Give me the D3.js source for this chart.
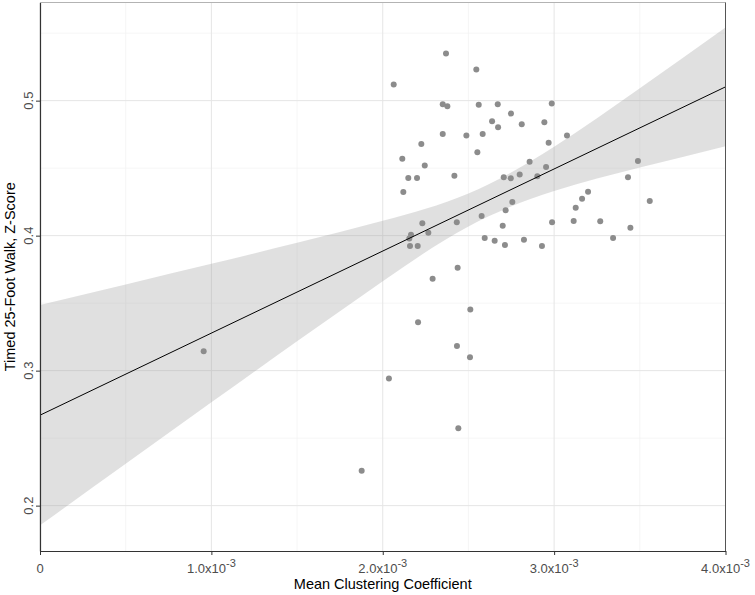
<!DOCTYPE html>
<html>
<head>
<meta charset="utf-8">
<script src="https://cdn.jsdelivr.net/npm/d3@7.9.0/dist/d3.min.js"></script>
<style>
  html, body { margin: 0; padding: 0; background: #fff; }
  svg { display: block; font-family: "Liberation Sans", Arial, sans-serif; }
</style>
</head>
<body>
<svg id="chart" width="755" height="595"></svg>
<script>
// mean clustering coefficient (x, in units of 1e-3) vs timed 25-foot walk z-score (y)
const clustering = [
  2.064, 2.369, 2.546, 2.350, 2.377, 2.560, 2.671, 2.986, 2.748, 2.638,
  2.673, 2.811, 2.943, 2.350, 2.488, 2.583, 2.968, 2.225, 2.552, 2.114,
  2.245, 2.857, 2.953, 2.149, 2.200, 2.418, 2.706, 2.747, 2.799, 2.902,
  2.120, 2.756, 2.717, 2.577, 2.231, 2.432, 2.700, 2.988, 2.165, 2.155,
  2.266, 2.159, 2.204, 2.595, 2.653, 2.713, 2.824, 2.929, 2.437, 2.291,
  2.511, 2.206, 2.433, 2.509, 2.036, 2.441, 1.877, 0.955, 3.075, 3.489,
  3.431, 3.198, 3.163, 3.126, 3.114, 3.269, 3.445, 3.344, 3.558
];

const walkZ = [
  0.512, 0.535, 0.523, 0.4973, 0.4959, 0.497, 0.4973, 0.4978, 0.4904, 0.4847,
  0.4803, 0.4825, 0.484, 0.4753, 0.4741, 0.4753, 0.4689, 0.4679, 0.4618, 0.457,
  0.4519, 0.4548, 0.4509, 0.4427, 0.4427, 0.4444, 0.4433, 0.4425, 0.4452, 0.444,
  0.4324, 0.425, 0.4188, 0.4146, 0.4092, 0.4099, 0.4074, 0.4099, 0.4007, 0.3978,
  0.4022, 0.3924, 0.3924, 0.3983, 0.3963, 0.3931, 0.397, 0.3924, 0.3763, 0.3681,
  0.3452, 0.3359, 0.3183, 0.3099, 0.2941, 0.2573, 0.2259, 0.3144, 0.4741, 0.4553,
  0.4433, 0.4326, 0.4274, 0.4207, 0.4109, 0.4107, 0.4059, 0.3983, 0.4257
];

// fitted line and 95% band
const fitX = [0, 4];
const fitY = [0.267, 0.5102];
const bandX = [0, 0.5, 1, 1.5, 2, 2.5, 3, 3.5, 4];
const bandLower = [0.1854, 0.2310, 0.2765, 0.3217, 0.3662, 0.4068, 0.4330, 0.4504, 0.4662];
const bandUpper = [0.3486, 0.3638, 0.3791, 0.3947, 0.4110, 0.4312, 0.4659, 0.5092, 0.5542];

const xTicks = [0, 1, 2, 3, 4];
const xMinor = [0.5, 1.5, 2.5, 3.5];
const yTicks = [0.2, 0.3, 0.4, 0.5];
const yMinor = [0.25, 0.35, 0.45, 0.55];

const points = clustering.map((x, i) => ({ x, y: walkZ[i] }));
const band = bandX.map((x, i) => ({ x, lo: bandLower[i], hi: bandUpper[i] }));
const fit = fitX.map((x, i) => ({ x, y: fitY[i] }));

const panel = { left: 40, right: 725.5, top: 2.5, bottom: 551 };

const svg = d3.select('#chart');

const xScale = d3.scaleLinear().domain([0, 4]).range([panel.left, panel.right]);
const yScale = d3.scaleLinear().domain([0.1664, 0.5727]).range([panel.bottom, panel.top]);

// grid
const grid = svg.append('g');
grid.selectAll('.xminor').data(xMinor).join('line')
  .attr('x1', d => xScale(d)).attr('x2', d => xScale(d))
  .attr('y1', panel.top).attr('y2', panel.bottom)
  .attr('stroke', '#f0f0f0').attr('stroke-width', 0.7);
grid.selectAll('.yminor').data(yMinor).join('line')
  .attr('x1', panel.left).attr('x2', panel.right)
  .attr('y1', d => yScale(d)).attr('y2', d => yScale(d))
  .attr('stroke', '#f0f0f0').attr('stroke-width', 0.7);
grid.selectAll('.xmajor').data(xTicks).join('line')
  .attr('x1', d => xScale(d)).attr('x2', d => xScale(d))
  .attr('y1', panel.top).attr('y2', panel.bottom)
  .attr('stroke', '#e5e5e5').attr('stroke-width', 1);
grid.selectAll('.ymajor').data(yTicks).join('line')
  .attr('x1', panel.left).attr('x2', panel.right)
  .attr('y1', d => yScale(d)).attr('y2', d => yScale(d))
  .attr('stroke', '#e5e5e5').attr('stroke-width', 1);

// confidence band
svg.append('path')
  .datum(band)
  .attr('fill', '#999')
  .attr('fill-opacity', 0.3)
  .attr('d', d3.area().curve(d3.curveNatural)
    .x(d => xScale(d.x)).y0(d => yScale(d.lo)).y1(d => yScale(d.hi)));

// points
svg.append('g').selectAll('circle').data(points).join('circle')
  .attr('cx', d => xScale(d.x))
  .attr('cy', d => yScale(d.y))
  .attr('r', 3)
  .attr('fill', '#8c8c8c');

// fitted line
svg.append('path')
  .datum(fit)
  .attr('fill', 'none')
  .attr('stroke', '#000')
  .attr('stroke-width', 1)
  .attr('d', d3.line().x(d => xScale(d.x)).y(d => yScale(d.y)));

// panel border (top / right)
svg.append('line').attr('x1', panel.left).attr('x2', panel.right)
  .attr('y1', panel.top).attr('y2', panel.top).attr('stroke', '#b3b3b3');
svg.append('line').attr('x1', panel.right).attr('x2', panel.right)
  .attr('y1', panel.top).attr('y2', panel.bottom).attr('stroke', '#555');

// axes
const xAxis = svg.append('g')
  .attr('transform', `translate(0,${panel.bottom})`)
  .call(d3.axisBottom(xScale).tickValues(xTicks).tickSize(4).tickSizeOuter(0).tickFormat(''));
const yAxis = svg.append('g')
  .attr('transform', `translate(${panel.left},0)`)
  .call(d3.axisLeft(yScale).tickValues(yTicks).tickSize(4).tickSizeOuter(0).tickFormat(''));
[xAxis, yAxis].forEach(g => {
  g.select('.domain').attr('stroke', '#333').attr('stroke-width', 1.2);
  g.selectAll('.tick line').attr('stroke', '#333');
});

// x tick labels: 0, 1.0x10^-3, ...
const xLab = svg.append('g').selectAll('text').data(xTicks).join('text')
  .attr('x', d => xScale(d))
  .attr('y', 573)
  .attr('text-anchor', 'middle')
  .attr('fill', '#4d4d4d')
  .attr('font-size', 13);
xLab.each(function (d) {
  const t = d3.select(this);
  if (d === 0) { t.text('0'); return; }
  t.append('tspan').text(`${d.toFixed(1)}x10`);
  t.append('tspan').attr('dy', -6).attr('font-size', 11).text('-3');
});

// y tick labels (rotated)
svg.append('g').selectAll('text').data(yTicks).join('text')
  .attr('transform', d => `translate(33,${yScale(d)}) rotate(-90)`)
  .attr('text-anchor', 'middle')
  .attr('fill', '#4d4d4d')
  .attr('font-size', 13)
  .text(d => d3.format('.1f')(d));

// axis titles
svg.append('text')
  .attr('x', (panel.left + panel.right) / 2)
  .attr('y', 589)
  .attr('text-anchor', 'middle')
  .attr('font-size', 14.5)
  .attr('fill', '#000')
  .text('Mean Clustering Coefficient');

svg.append('text')
  .attr('transform', `translate(15,${(panel.top + panel.bottom) / 2}) rotate(-90)`)
  .attr('text-anchor', 'middle')
  .attr('font-size', 14.5)
  .attr('fill', '#000')
  .text('Timed 25-Foot Walk, Z-Score');
</script>
</body>
</html>
